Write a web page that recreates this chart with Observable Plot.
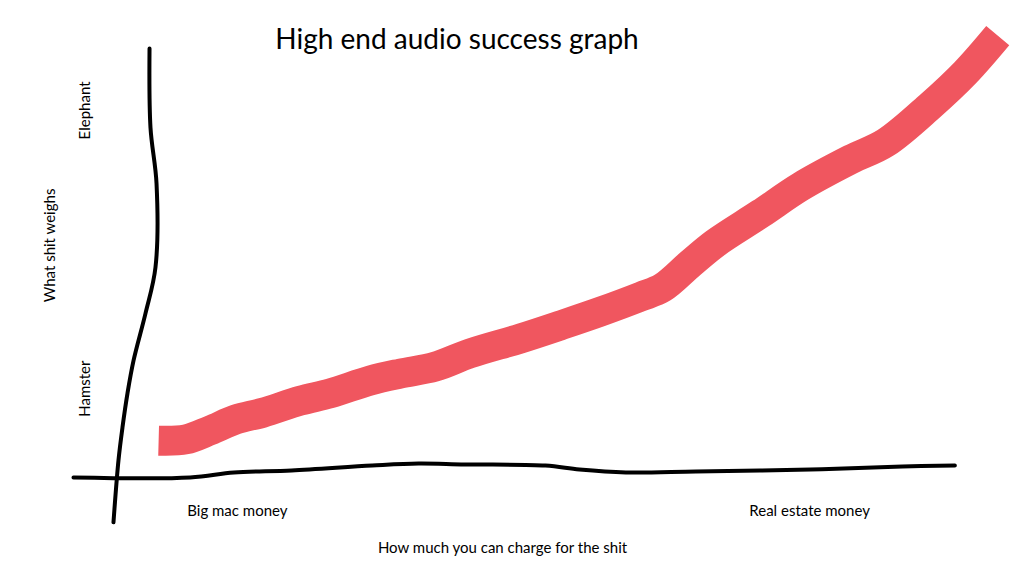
<!DOCTYPE html>
<html>
<head>
<meta charset="utf-8">
<script src="https://cdn.jsdelivr.net/npm/d3@7"></script>
<script src="https://cdn.jsdelivr.net/npm/@observablehq/plot@0.6"></script>
<style>
  html, body { margin: 0; padding: 0; background: #fff; }
  #wrap { position: relative; width: 1033px; height: 586px; overflow: hidden; }
  #title { position: absolute; left: 0; width: 914px; top: 21px; text-align: center;
    font-family: "Comic Sans MS", "Lato", "Open Sans", sans-serif; font-size: 28px; line-height: 34px; color: #000; }
</style>
</head>
<body>
<div id="wrap">
  <div id="title">High end audio success graph</div>
</div>
<script>
// Units: price 0..100 (how much you can charge), weight 0..100 (what it weighs)
const successPrice  = [9.5, 12.6, 15.4, 18.3, 21.4, 25.7, 29.1, 33.7, 37.1, 41.1, 45.1, 50.9, 55.4, 60.0, 64.6, 67.1, 70.3, 73.1, 78.3, 82.9, 88.6, 92.6, 97.7, 101.7, 105.4];
const successWeight = [8.8, 9.1, 11.2, 13.7, 15.3, 18.1, 19.8, 22.8, 24.4, 26.0, 29.1, 32.6, 35.6, 38.8, 42.3, 44.4, 50.0, 54.7, 61.6, 67.9, 74.2, 78.1, 86.7, 94.4, 103.0];

// hand-drawn axis strokes
const yAxisPrice  = [8.46, 8.57, 9.26, 9.14, 8.0, 6.63, 5.94, 5.37, 4.91, 4.34];
const yAxisWeight = [100, 81.6, 68.6, 49.1, 38.4, 27.4, 19.8, 11.9, 4.2, -10.2];
const xAxisPrice  = [-0.23, 13.1, 18.1, 24.7, 33.9, 39.2, 44.5, 53.7, 57.6, 62.9, 70.9, 84.0, 94.5, 100.5];
const xAxisWeight = [0.23, 0.23, 1.4, 1.86, 3.02, 3.49, 3.26, 3.02, 2.09, 1.4, 1.63, 2.09, 2.79, 3.02];

// tick labels
const yTickLabels = ["Hamster", "Elephant"];
const yTickValues = [20.9, 85.6];
const xTickLabels = ["Big mac money", "Real estate money"];
const xTickValues = [18.5, 83.9];

const xTitle = "How much you can charge for the shit";
const yTitle = "What shit weighs";

const zip = (xs, ys) => xs.map((x, i) => ({x, y: ys[i]}));
const success = zip(successPrice, successWeight);
const yAxisLine = zip(yAxisPrice, yAxisWeight);
const xAxisLine = zip(xAxisPrice, xAxisWeight);
const yTicks = yTickLabels.map((t, i) => ({t, v: yTickValues[i]}));
const xTicks = xTickLabels.map((t, i) => ({t, v: xTickValues[i]}));

const font = '"Comic Sans MS", "Lato", "Open Sans", sans-serif';

const chart = Plot.plot({
  width: 1033,
  height: 586,
  margin: 0,
  style: {fontFamily: font, background: "#fff", color: "#000", overflow: "visible"},
  x: {domain: [0, 100], range: [75, 950], axis: null},
  y: {domain: [0, 100], range: [478, 48], axis: null},
  marks: [
    Plot.line(yAxisLine, {x: "x", y: "y", stroke: "#000", strokeWidth: 4, curve: "catmull-rom"}),
    Plot.line(xAxisLine, {x: "x", y: "y", stroke: "#000", strokeWidth: 4, curve: "catmull-rom"}),
    Plot.line(success, {x: "x", y: "y", stroke: "#f0565f", strokeWidth: 30, strokeLinecap: "butt", strokeLinejoin: "round", curve: "catmull-rom"}),
    Plot.text(yTicks, {y: "v", text: "t", frameAnchor: "left", dx: 85, rotate: -90, textAnchor: "middle", lineAnchor: "middle", fontSize: 15, fill: "#000"}),
    Plot.text(xTicks, {x: "v", text: "t", frameAnchor: "bottom", dy: -75, textAnchor: "middle", lineAnchor: "middle", fontSize: 15, fill: "#000"}),
    Plot.text([xTitle], {x: 48.8, frameAnchor: "bottom", dy: -38, textAnchor: "middle", lineAnchor: "middle", fontSize: 15, fill: "#000"}),
    Plot.text([yTitle], {y: 54.2, frameAnchor: "left", dx: 50, rotate: -90, textAnchor: "middle", lineAnchor: "middle", fontSize: 15, fill: "#000"})
  ]
});
document.getElementById("wrap").insertBefore(chart, document.getElementById("title"));
</script>
</body>
</html>
